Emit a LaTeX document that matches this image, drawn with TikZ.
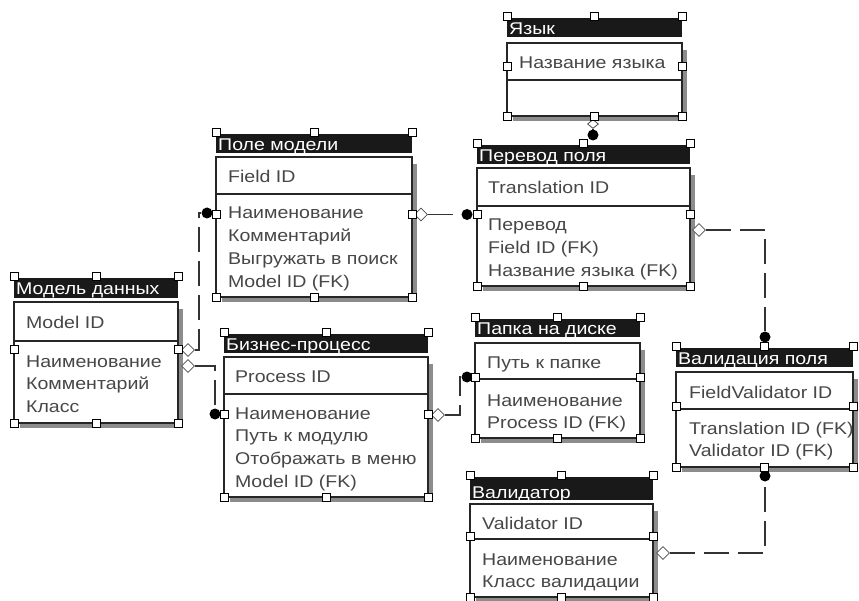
\documentclass[tikz,border=0pt]{standalone}
\usepackage{fontspec}
\setmainfont[FakeStretch=1.15]{Liberation Sans}
\usetikzlibrary{shapes.geometric,backgrounds}
\tikzset{
  shd/.style={fill=black!45},
  hdr/.style={fill=black!90},
  boxln/.style={draw=black!85, line width=1.2pt},
  handle/.style={rectangle, draw=black, fill=white, line width=0.8pt, minimum size=8pt, inner sep=0pt},
  txt/.style={anchor=base west, inner sep=0pt, text=black!72, font=\fontsize{17}{20}\selectfont},
  ttl/.style={txt, text=white},
  rel/.style={draw=black!80, line width=1.2pt, dash pattern=on 25pt off 9pt},
  dia/.style={diamond, draw=black!70, fill=white, line width=0.8pt, minimum width=13pt, minimum height=13pt, inner sep=0pt},
  dotend/.style={circle, fill=black, minimum size=11pt, inner sep=0pt}
}
% id, x1, x2, ytop, header bottom, body top, divider, bottom
\newcommand{\erbox}[8]{%
  \fill[shd] (#3,#6+7) rectangle (#3+5,#8+5);
  \fill[shd] (#2+6,#8) rectangle (#3+5,#8+5);
  \fill[hdr] (#2,#4+2) rectangle (#3,#5);
  \draw[boxln] (#2,#6) rectangle (#3,#8);
  \draw[boxln] (#2,#7) -- (#3,#7);
}
% id, x1, x2, ytop, ybot
\newcommand{\erhandles}[5]{%
  \pgfmathsetmacro\erxm{(#2+#3)/2}%
  \pgfmathsetmacro\erym{(#4+#5)/2}%
  \node[handle] (#1-tl) at (#2,#4) {};
  \node[handle] (#1-t) at (\erxm,#4) {};
  \node[handle] (#1-tr) at (#3,#4) {};
  \node[handle] (#1-l) at (#2,\erym) {};
  \node[handle] (#1-r) at (#3,\erym) {};
  \node[handle] (#1-bl) at (#2,#5) {};
  \node[handle] (#1-b) at (\erxm,#5) {};
  \node[handle] (#1-br) at (#3,#5) {};
}
\begin{document}
\begin{tikzpicture}[x=1pt,y=-1pt]
\useasboundingbox (0,0) rectangle (859,601);

% ---- entity boxes
\erbox{mod}{14}{178}{276}{298}{302}{341}{423}
\erbox{pole}{216}{412}{132}{153}{157}{194}{297}
\erbox{yaz}{507}{682}{16}{37}{43}{80}{116}
\erbox{per}{477}{690}{143}{164}{168}{206}{286}
\erbox{biz}{224}{428}{332}{353}{357}{394}{497}
\erbox{pap}{475}{640}{317}{337}{343}{379}{438}
\erbox{val}{676}{853}{346}{367}{372}{409}{467}
\erbox{vdr}{470}{653}{475}{500}{504}{539}{597}

% ---- texts
\node[ttl] (mod-n) at (16,295) {Модель данных};
\node[txt] (mod-k) at (26,329) {Model ID};
\node[txt] (mod-a1) at (26,367) {Наименование};
\node[txt] (mod-a2) at (26,389.7) {Комментарий};
\node[txt] (mod-a3) at (26,412.4) {Класс};

\node[ttl] (pole-n) at (218,151) {Поле модели};
\node[txt] (pole-k) at (228,183) {Field ID};
\node[txt] (pole-a1) at (228,219) {Наименование};
\node[txt] (pole-a2) at (228,241.7) {Комментарий};
\node[txt] (pole-a3) at (228,264.4) {Выгружать в поиск};
\node[txt] (pole-a4) at (228,287.1) {Model ID (FK)};

\node[ttl] (yaz-n) at (509,35) {Язык};
\node[txt] (yaz-k) at (519,69) {Название языка};

\node[ttl] (per-n) at (479,162) {Перевод поля};
\node[txt] (per-k) at (488,194) {Translation ID};
\node[txt] (per-a1) at (488,231) {Перевод};
\node[txt] (per-a2) at (488,253.7) {Field ID (FK)};
\node[txt] (per-a3) at (488,276.4) {Название языка (FK)};

\node[ttl] (biz-n) at (226,351) {Бизнес-процесс};
\node[txt] (biz-k) at (235,382) {Process ID};
\node[txt] (biz-a1) at (235,419) {Наименование};
\node[txt] (biz-a2) at (235,441.7) {Путь к модулю};
\node[txt] (biz-a3) at (235,464.4) {Отображать в меню};
\node[txt] (biz-a4) at (235,487.1) {Model ID (FK)};

\node[ttl] (pap-n) at (477,335) {Папка на диске};
\node[txt] (pap-k) at (487,369) {Путь к папке};
\node[txt] (pap-a1) at (487,406) {Наименование};
\node[txt] (pap-a2) at (487,428.7) {Process ID (FK)};

\node[ttl] (val-n) at (678,365) {Валидация поля};
\node[txt] (val-k) at (689,398) {FieldValidator ID};
\node[txt] (val-a1) at (689,434) {Translation ID (FK)};
\node[txt] (val-a2) at (689,456.7) {Validator ID (FK)};

\node[ttl] (vdr-n) at (472,498) {Валидатор};
\node[txt] (vdr-k) at (482,529) {Validator ID};
\node[txt] (vdr-a1) at (482,565) {Наименование};
\node[txt] (vdr-a2) at (482,587.7) {Класс валидации};

% ---- relationship ends
\node[dia] (d1) at (188,350) {};
\node[dia] (d2) at (188,366) {};
\node[dia] (d3) at (421,214.5) {};
\node[dia, minimum width=11pt, minimum height=9pt] (d4) at (593,124) {};
\node[dia] (d5) at (438,415) {};
\node[dia] (d6) at (699,230) {};
\node[dia] (d7) at (663,553) {};

\node[dotend] (t1) at (207,213) {};
\node[dotend] (t2) at (215,414) {};
\node[dotend] (t3) at (467,214.5) {};
\node[dotend] (t4) at (593,135) {};
\node[dotend] (t5) at (467,377) {};
\node[dotend] (t6) at (765,337) {};
\node[dotend] (t7) at (765,476) {};

% ---- background and connectors (behind)
\begin{pgfonlayer}{background}
\fill[white] (0,0) rectangle (859,601);
\draw[rel] (d1.east) -- ++(4,0) |- (t1);
\draw[rel] (d2.east) -| (t2);
\draw[rel] (d3.east) -- (t3);
\draw[rel] (d4) -- (t4);
\draw[rel] (d5.east) -- ++(15,0) |- (t5);
\draw[rel] (d6.east) -| (t6);
\draw[rel] (d7.east) -| (t7);
\end{pgfonlayer}

% ---- selection handles
\erhandles{mod}{14}{178}{276}{423}
\erhandles{pole}{216}{412}{132}{297}
\erhandles{yaz}{507}{682}{16}{116}
\erhandles{per}{477}{690}{143}{286}
\erhandles{biz}{224}{428}{332}{497}
\erhandles{pap}{475}{640}{317}{438}
\erhandles{val}{676}{853}{346}{467}
\erhandles{vdr}{470}{653}{475}{597}
\end{tikzpicture}
\end{document}
